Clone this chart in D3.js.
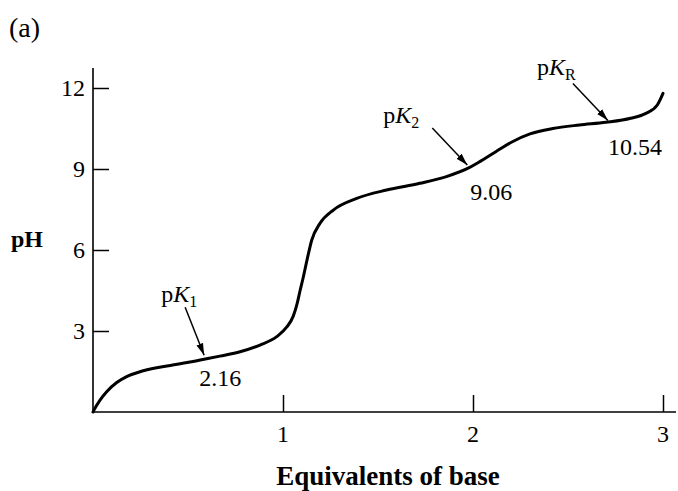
<!DOCTYPE html>
<html>
<head>
<meta charset="utf-8">
<script src="https://cdn.jsdelivr.net/npm/d3@7"></script>
<style>
  html, body { margin: 0; padding: 0; background: #fff; }
  svg { display: block; }
  text { font-family: "Liberation Serif", "Times New Roman", serif; fill: #000; }
</style>
</head>
<body>
<svg id="chart" width="678" height="491"></svg>
<script>
// ---- data ----
const equivalents = [0, 0.005, 0.037, 0.072, 0.125, 0.177, 0.247, 0.335, 0.42, 0.51, 0.598, 0.668, 0.774, 0.879, 0.967, 1.019, 1.054, 1.075, 1.09, 1.107, 1.128, 1.151, 1.195, 1.265, 1.388, 1.545, 1.72, 1.86, 1.98, 2.03, 2.12, 2.21, 2.30, 2.42, 2.56, 2.70, 2.83, 2.91, 2.97, 3.0];
const pHValues    = [0, 0.07, 0.44, 0.75, 1.09, 1.31, 1.49, 1.64, 1.74, 1.85, 1.97, 2.07, 2.23, 2.48, 2.79, 3.14, 3.55, 4.03, 4.5, 5.0, 5.68, 6.36, 6.99, 7.48, 7.91, 8.22, 8.47, 8.72, 9.05, 9.25, 9.64, 10.02, 10.3, 10.5, 10.63, 10.73, 10.88, 11.06, 11.37, 11.8];
const xTicks = [1, 2, 3];
const yTicks = [3, 6, 9, 12];
const pKNames  = ["1", "2", "R"];
const pKValues = ["2.16", "9.06", "10.54"];
const pKEquiv  = [0.585, 1.97, 2.71];   // where the arrows point on the curve
const pKArrowpH = [2.1, 9.15, 10.8];

// ---- layout ----
const svg = d3.select("#chart");
const x = d3.scaleLinear().domain([0, 3]).range([93, 663]);
const y = d3.scaleLinear().domain([0, 12]).range([412, 88]);

// defs: arrowhead
svg.append("defs").append("marker")
  .attr("id", "arrow").attr("viewBox", "0 0 12 10")
  .attr("refX", 12).attr("refY", 5)
  .attr("markerWidth", 12).attr("markerHeight", 10)
  .attr("markerUnits", "userSpaceOnUse")
  .attr("orient", "auto")
  .append("path").attr("d", "M0,1.5 L12,5 L0,8.5 Z").attr("fill", "#000");

// axes lines
svg.append("line").attr("x1", x(0)).attr("x2", 676).attr("y1", y(0)).attr("y2", y(0))
  .attr("stroke", "#000").attr("stroke-width", 1.6);
svg.append("line").attr("x1", x(0)).attr("x2", x(0)).attr("y1", y(0)).attr("y2", 68)
  .attr("stroke", "#000").attr("stroke-width", 1.6);

// x axis ticks (inward)
const xAxis = d3.axisTop(x).tickValues(xTicks).tickSize(17).tickFormat("");
const gx = svg.append("g").attr("transform", `translate(0,${y(0)})`).call(xAxis);
gx.select(".domain").remove();
gx.selectAll(".tick line").attr("stroke-width", 1.5);
svg.selectAll(".xlab").data(xTicks).enter().append("text")
  .attr("x", d => x(d)).attr("y", 442).attr("text-anchor", "middle")
  .attr("font-size", 24).text(d => d);

// y axis ticks (inward)
const yAxis = d3.axisRight(y).tickValues(yTicks).tickSize(16).tickFormat("");
const gy = svg.append("g").attr("transform", `translate(${x(0)},0)`).call(yAxis);
gy.select(".domain").remove();
gy.selectAll(".tick line").attr("stroke-width", 1.5);
svg.selectAll(".ylab").data(yTicks).enter().append("text")
  .attr("x", 85).attr("y", d => y(d) + 8).attr("text-anchor", "end")
  .attr("font-size", 24).text(d => d);

// curve
const pts = equivalents.map((e, i) => [e, pHValues[i]]);
svg.append("path").datum(pts)
  .attr("d", d3.line().x(d => x(d[0])).y(d => y(d[1])).curve(d3.curveMonotoneX))
  .attr("fill", "none").attr("stroke", "#000").attr("stroke-width", 3)
  .attr("stroke-linecap", "round");

// annotations
const arrowOffset = [[-19, -48], [-35, -37], [-35, -37]];
const labelOffset = [[-43, -53], [-84, -42], [-71, -45]];
const valueOffset = [[-5, 31], [3, 35], [0, 35]];
pKNames.forEach((n, i) => {
  const tx = x(pKEquiv[i]), ty = y(pKArrowpH[i]);
  svg.append("line")
    .attr("x1", tx + arrowOffset[i][0]).attr("y1", ty + arrowOffset[i][1])
    .attr("x2", tx).attr("y2", ty)
    .attr("stroke", "#000").attr("stroke-width", 1.5).attr("marker-end", "url(#arrow)");
  const t = svg.append("text").attr("x", tx + labelOffset[i][0]).attr("y", ty + labelOffset[i][1])
    .attr("font-size", 24);
  t.append("tspan").text("p");
  t.append("tspan").attr("font-style", "italic").text("K");
  t.append("tspan").attr("font-size", 16).attr("dy", 5).text(n);
  svg.append("text").attr("x", tx + valueOffset[i][0]).attr("y", ty + valueOffset[i][1])
    .attr("font-size", 24).text(pKValues[i]);
});

// titles
svg.append("text").attr("x", 9).attr("y", 37).attr("font-size", 28).text("(a)");
svg.append("text").attr("x", 11).attr("y", 247).attr("font-size", 24).attr("font-weight", "bold").text("pH");
svg.append("text").attr("x", 388).attr("y", 485).attr("text-anchor", "middle")
  .attr("font-size", 27).attr("font-weight", "bold").text("Equivalents of base");
</script>
</body>
</html>
